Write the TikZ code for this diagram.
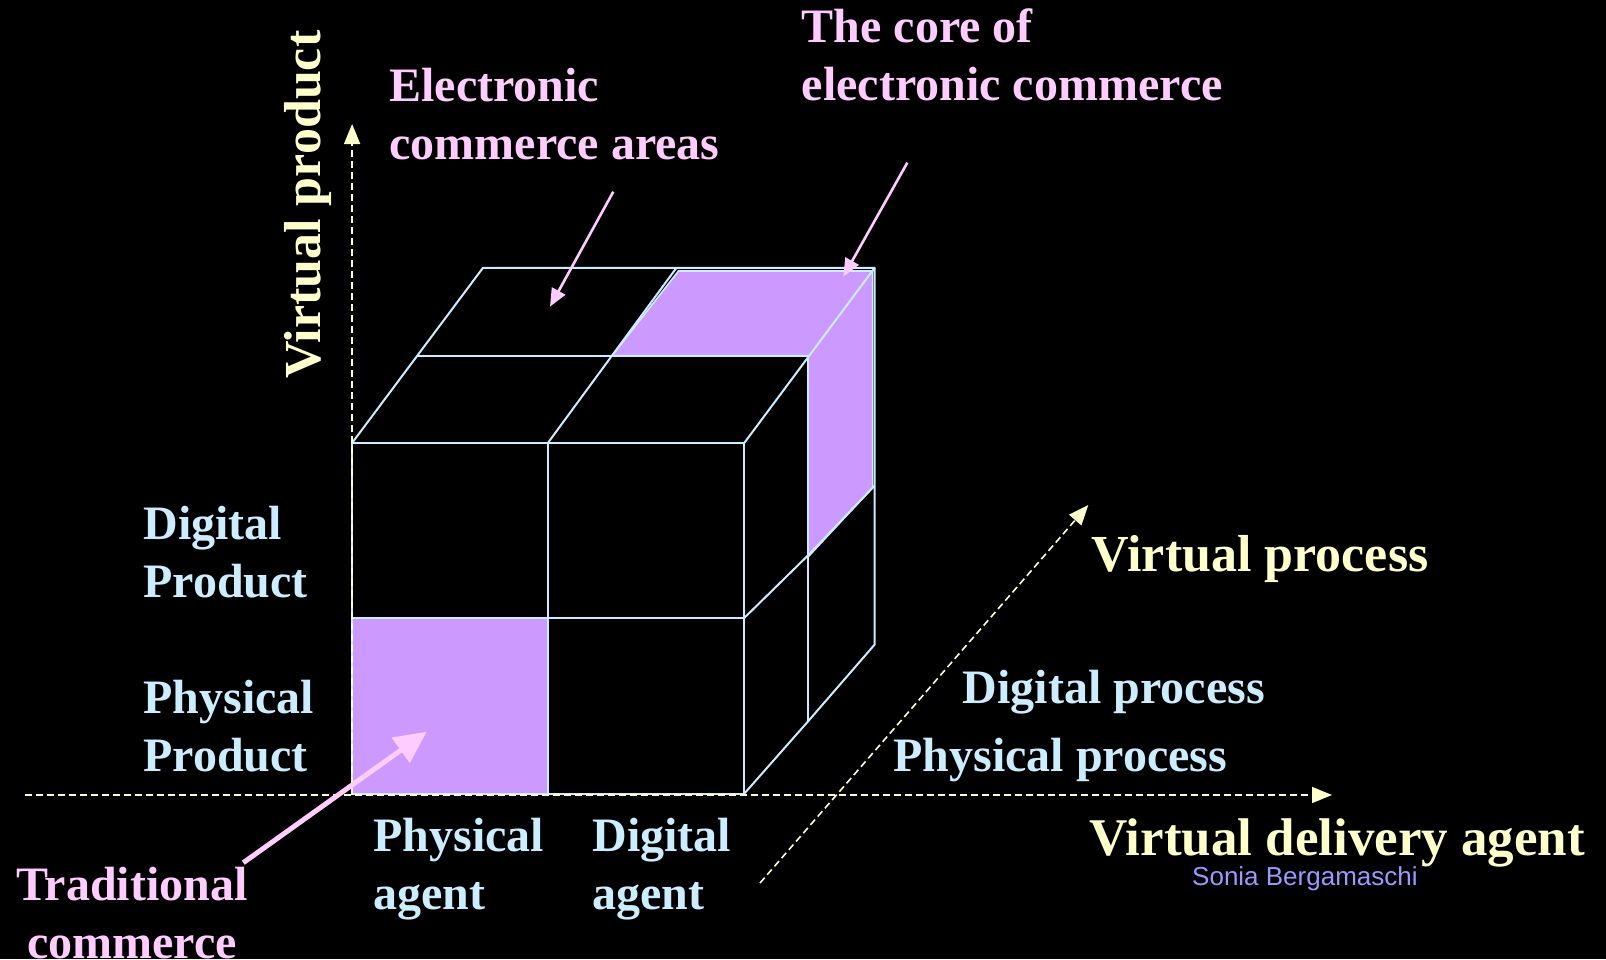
\documentclass[tikz,border=0pt]{standalone}
\usepackage{fontspec}
\setmainfont{Liberation Serif}
\newfontfamily\arialfont{Liberation Sans}
\usetikzlibrary{arrows.meta}
\definecolor{pinkc}{HTML}{FFCCFF}
\definecolor{yellowc}{HTML}{FFFFCC}
\definecolor{bluec}{HTML}{CCECFF}
\definecolor{purplec}{HTML}{CC99FF}
\definecolor{soniac}{HTML}{9999FF}
\begin{document}
\begin{tikzpicture}[x=1pt,y=-1pt,
  cubeline/.style={draw=bluec, line width=2pt, line join=round},
  purplefill/.style={fill=purplec, draw=bluec, line width=1.6pt, line join=round},
  axisline/.style={draw=yellowc, line width=1.6pt, dash pattern=on 7pt off 4pt,
    -{Triangle[length=20pt,width=16pt]}},
  thinarrow/.style={draw=pinkc, fill=pinkc, line width=2.6pt,
    -{Triangle[length=18pt,width=15pt]}},
  thickarrow/.style={draw=pinkc, fill=pinkc, line width=5pt,
    -{Triangle[length=32pt,width=30pt]}},
  lbl/.style={inner sep=0pt, anchor=base west, align=left,
    font=\bfseries\fontsize{48}{58}\selectfont},
  biglbl/.style={inner sep=0pt, anchor=base west, text=yellowc,
    font=\bfseries\fontsize{52}{62}\selectfont},
]
\useasboundingbox (0,0) rectangle (1606,959);
\fill[black] (0,0) rectangle (1606,959);

% cube vertices
\coordinate (A) at (352.1,442.9);
\coordinate (AM) at (547.9,442.9);
\coordinate (B) at (744.3,442.9);
\coordinate (L) at (352.1,617.9);
\coordinate (M) at (547.9,617.9);
\coordinate (R) at (744.3,617.9);
\coordinate (D) at (352.1,793.6);
\coordinate (DM) at (547.9,793.6);
\coordinate (C) at (744.3,793.6);
\coordinate (TL) at (482.9,267.9);
\coordinate (TM) at (676.4,267.9);
\coordinate (TR) at (874.6,267.9);
\coordinate (HL) at (417.5,355.6);
\coordinate (HM) at (612.1,355.6);
\coordinate (HR) at (808.0,355.6);
\coordinate (RMm) at (808.0,555.4);
\coordinate (RMb) at (874.6,485.7);
\coordinate (RBm) at (808.0,721.4);
\coordinate (RBb) at (874.6,644.6);

% purple areas
\path[purplefill] (L) rectangle (DM);
\path[purplefill] (HM) -- (678.5,271) -- (872.6,271) -- (872.6,487.5)
  -- (808.0,557) -- (HR) -- cycle;

% cube wireframe
\draw[cubeline] (A) rectangle (C);
\draw[cubeline] (AM) -- (DM);
\draw[cubeline] (L) -- (R);
\draw[cubeline] (A) -- (TL) -- (TR) -- (B);
\draw[cubeline] (AM) -- (TM);
\draw[cubeline] (HL) -- (HR);
\draw[cubeline] (TR) -- (RBb) -- (RBm) -- (C);
\draw[cubeline] (HR) -- (RBm);
\draw[cubeline] (R) -- (RMm) -- (RMb);

% axes
\coordinate (hx0) at (25,795);
\coordinate (hx1) at (1332,795);
\coordinate (vy0) at (352.1,795);
\coordinate (vy1) at (352.1,124);
\coordinate (dz0) at (760,883);
\coordinate (dz1) at (1088.3,505);
\draw[axisline] (hx0) -- (hx1);
\draw[axisline] (vy0) -- (vy1);
\draw[axisline] (dz0) -- (dz1);

% labels (two-line labels are anchored on the baseline of their last line)
\node[lbl, text=pinkc] (eca) at (389.3,159.5) {Electronic\\commerce areas};
\node[lbl, text=pinkc] (core) at (801.7,100.5) {The core of\\electronic commerce};
\node[lbl, text=bluec] (dprod) at (143.3,597) {Digital\\Product};
\node[lbl, text=bluec] (pprod) at (143.3,771) {Physical\\Product};
\node[lbl, text=bluec] (pagent) at (373.3,909.5) {Physical\\agent};
\node[lbl, text=bluec] (dagent) at (592.3,909.5) {Digital\\agent};
\node[lbl, text=pinkc, anchor=base, align=center] (trad) at (132,958) {Traditional\\commerce};
\node[lbl, text=bluec] (dproc) at (962.7,703.3) {Digital process};
\node[lbl, text=bluec] (pproc) at (893.3,771.7) {Physical process};
\node[biglbl] (vproc) at (1091.7,571.7) {Virtual process};
\node[biglbl, font=\bfseries\fontsize{53}{63}\selectfont] (vda) at (1089.3,855) {Virtual delivery agent};
\node[biglbl, rotate=90] (vprod) at (320.6,379) {Virtual product};
\node[inner sep=0pt, anchor=base west, text=soniac,
  font=\arialfont\fontsize{26}{30}\selectfont] (sonia) at (1192,885) {Sonia Bergamaschi};

% pink arrows
\coordinate (ecaS) at (613.3,191.7);
\coordinate (ecaE) at (550,306.7);
\coordinate (coreS) at (907.3,162.7);
\coordinate (coreE) at (843.3,276.7);
\coordinate (tradS) at (243.3,862.7);
\coordinate (tradE) at (426.7,731.7);
\draw[thinarrow] (ecaS) -- (ecaE);
\draw[thinarrow] (coreS) -- (coreE);
\draw[thickarrow] (tradS) -- (tradE);
\end{tikzpicture}
\end{document}
